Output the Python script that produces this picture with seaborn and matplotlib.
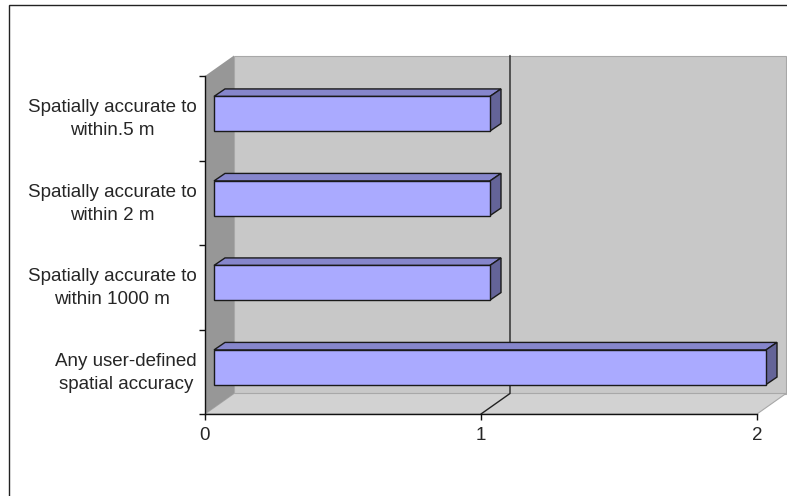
import matplotlib
matplotlib.use("Agg")
import matplotlib.pyplot as plt
from matplotlib.patches import Polygon, Rectangle
from matplotlib.transforms import ScaledTranslation
import seaborn as sns
import pandas as pd

# --- data -------------------------------------------------------------
categories = [
    "Spatially accurate to\nwithin.5 m",
    "Spatially accurate to\nwithin 2 m",
    "Spatially accurate to\nwithin 1000 m",
    "Any user-defined\nspatial accuracy",
]
values = [1, 1, 1, 2]
x_ticks = [0, 1, 2]
x_max = 2

# --- style ------------------------------------------------------------
sns.set_style("white")
plt.rcParams["font.family"] = ["Liberation Sans", "DejaVu Sans"]

FRONT = "#aaaaff"
TOP = "#8686cc"
SIDE = "#646498"
WALL_BACK = "#c8c8c8"
WALL_LEFT = "#979797"
FLOOR = "#d2d2d2"

W, H, DPI = 787, 496, 100
fig = plt.figure(figsize=(W / DPI, H / DPI), dpi=DPI)
fig.patch.set_facecolor("white")

# front plane of the 3-D box, in figure pixels
left, right, top, bottom = 205, 757, 76, 414
ax = fig.add_axes([left / W, (H - bottom) / H, (right - left) / W, (bottom - top) / H])

df = pd.DataFrame({"category": categories, "value": values})
sns.barplot(data=df, x="value", y="category", orient="h", width=0.41,
            color=FRONT, edgecolor="#1a1a1a", linewidth=1.0, saturation=1,
            ax=ax, zorder=5)

n = len(categories)
ax.set_xlim(0, x_max)
ax.set_ylim(n - 0.5, -0.5)

px_x = (right - left) / x_max      # pixels per value unit
px_y = (bottom - top) / n          # pixels per category band

def dxy(px_right, px_up):
    """Pixel offset converted to data units (y axis runs downward)."""
    return px_right / px_x, -px_up / px_y

# box depth and bar placement / depth
Dx, Dy = dxy(29, 20.5)
Bx, By = dxy(9, 4.5)
bdx, bdy = dxy(11, 7.5)

y_lo, y_hi = -0.5, n - 0.5

# back wall
ax.add_patch(Rectangle((Dx, y_lo + Dy), x_max, n, facecolor=WALL_BACK,
                       edgecolor="#a8a8a8", linewidth=0.8, clip_on=False, zorder=0))
# floor
ax.add_patch(Polygon([(0, y_hi), (x_max, y_hi), (x_max + Dx, y_hi + Dy), (Dx, y_hi + Dy)],
                     closed=True, facecolor=FLOOR, edgecolor="#a8a8a8", linewidth=0.8,
                     clip_on=False, zorder=1))
# left wall
ax.add_patch(Polygon([(0, y_lo), (0, y_hi), (Dx, y_hi + Dy), (Dx, y_lo + Dy)],
                     closed=True, facecolor=WALL_LEFT, edgecolor="none",
                     clip_on=False, zorder=2))

# gridlines on the back wall and floor
for xv in x_ticks[1:-1]:
    ax.plot([xv + Dx, xv + Dx, xv], [y_lo + Dy, y_hi + Dy, y_hi], color="#222222",
            linewidth=1.0, clip_on=False, zorder=3, solid_joinstyle="miter")

# bars: shift front faces into the box, then add top and side faces
bars = [p for p in ax.patches if p.get_zorder() == 5]
for p, v in zip(bars, values):
    p.set_x(p.get_x() + Bx)
    p.set_y(p.get_y() + By)
    x0, y0 = p.get_x(), p.get_y()
    x1, y1 = x0 + v, y0 + p.get_height()
    p.set_clip_on(False)
    ax.add_patch(Polygon([(x0, y0), (x1, y0), (x1 + bdx, y0 + bdy), (x0 + bdx, y0 + bdy)],
                         closed=True, facecolor=TOP, edgecolor="#1a1a1a", linewidth=1.0,
                         clip_on=False, zorder=4))
    ax.add_patch(Polygon([(x1, y0), (x1, y1), (x1 + bdx, y1 + bdy), (x1 + bdx, y0 + bdy)],
                         closed=True, facecolor=SIDE, edgecolor="#1a1a1a", linewidth=1.0,
                         clip_on=False, zorder=4))

# axes lines
for s in ("top", "right"):
    ax.spines[s].set_visible(False)
for s in ("left", "bottom"):
    ax.spines[s].set_color("#111111")
    ax.spines[s].set_linewidth(1.0)
    ax.spines[s].set_zorder(6)

ax.set_xticks(x_ticks)
ax.set_xticklabels([str(t) for t in x_ticks])
ax.tick_params(axis="x", direction="out", length=4, width=1, color="#111111",
               labelsize=13.5, pad=5, bottom=True)

ax.set_yticks([i - 0.5 for i in range(n + 1)])
ax.set_yticklabels([])
ax.set_yticks(range(n), minor=True)
ax.set_yticklabels(categories, minor=True, fontsize=13.5, ha="right",
                   multialignment="center", linespacing=1.45)
ax.tick_params(axis="y", which="major", direction="out", length=4, width=1,
               color="#111111", left=True)
ax.tick_params(axis="y", which="minor", length=0, pad=6)
ax.set_xlabel("")
ax.set_ylabel("")
ax.set_facecolor("none")
ax.grid(False)

# category labels sit slightly above the band centres
lift = ScaledTranslation(0, 4 / DPI, fig.dpi_scale_trans)
for lbl in ax.get_yticklabels(minor=True):
    lbl.set_transform(lbl.get_transform() + lift)

# outer chart frame (continues past the right and bottom edges)
fig.patches.append(Rectangle((8.5 / W, -0.1), 1.2, (H - 4.5) / H + 0.1,
                             transform=fig.transFigure, fill=False,
                             edgecolor="#222222", linewidth=1.0))

fig.savefig("out.png", dpi=DPI)
